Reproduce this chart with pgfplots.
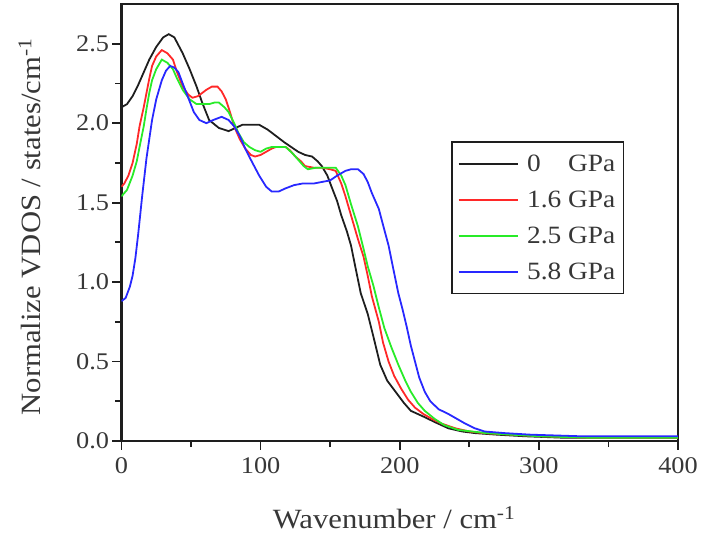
\documentclass[border=0pt]{standalone}
\usepackage{fontspec}
\setmainfont{Liberation Serif}[FakeStretch=1.1]
\usepackage{pgfplots}
\pgfplotsset{compat=1.18}
\definecolor{cblack}{RGB}{30,30,30}
\definecolor{cred}{RGB}{255,40,40}
\definecolor{cgreen}{RGB}{40,235,40}
\definecolor{cblue}{RGB}{40,40,255}
\definecolor{ctext}{RGB}{55,55,55}
\begin{document}
\begin{tikzpicture}
\begin{axis}[
  scale only axis,
  width=559pt, height=439pt,
  xmin=0, xmax=400, ymin=0, ymax=2.75,
  xtick={0,100,200,300,400},
  minor xtick={50,150,250,350},
  ytick={0,0.5,1,1.5,2,2.5},
  minor ytick={0.25,0.75,1.25,1.75,2.25},
  tick pos=left, tick align=outside,
  major tick length=9pt, minor tick length=6pt,
  axis line style={line width=2.2pt, color=cblack},
  every tick/.style={line width=1.8pt, color=cblack},
  yticklabel style={/pgf/number format/.cd, fixed, fixed zerofill, precision=1},
  xticklabel style={yshift=-4pt},
  ticklabel style={font=\fontsize{24}{28}\selectfont, text=ctext},
  /pgf/number format/assume math mode=true,
  xlabel={Wavenumber / cm\textsuperscript{-1}},
  ylabel={Normalize VDOS / states/cm\textsuperscript{-1}},
  every axis x label/.style={at={(axis description cs:0.49,-0.175)}, anchor=center,
    font=\fontsize{28}{32}\selectfont, text=ctext},
  every axis y label/.style={at={(axis description cs:-0.165,0.49)}, anchor=center, rotate=90,
    font=\fontsize{28}{32}\selectfont, text=ctext},
  legend style={at={(rel axis cs:0.592,0.686)}, anchor=north west, draw=cblack, line width=1.6pt,
    font=\fontsize{25}{29}\selectfont, text=ctext, inner xsep=6pt, inner ysep=11pt, row sep=14pt,
    column sep=6pt},
  legend cell align=left,
  legend image code/.code={\draw[#1, line width=1.8pt] (0pt,0pt) -- (60pt,0pt);},
  every axis plot/.append style={line width=1.8pt},
]
\addplot[cblack] coordinates {
(0,2.10)(4,2.12)(8,2.17)(12,2.24)(16,2.32)(20,2.40)(25,2.48)(30,2.54)(34,2.56)(38,2.54)
(44,2.44)(49,2.34)(54,2.23)(58,2.13)(63,2.02)(70,1.97)(77,1.95)(82,1.97)(87,1.99)(93,1.99)
(99,1.99)(105,1.96)(111,1.92)(117,1.88)(122,1.85)(127,1.82)(132,1.80)(137,1.79)(141,1.76)(144,1.73)
(148,1.67)(151,1.60)(155,1.51)(158,1.42)(162,1.32)(165,1.23)(168,1.10)(172,0.93)(177,0.80)(181,0.66)
(186,0.48)(191,0.38)(197,0.31)(203,0.24)(208,0.19)(213,0.17)(218,0.15)(225,0.12)(235,0.08)(245,0.06)
(254,0.05)(270,0.04)(290,0.03)(320,0.02)(350,0.02)(400,0.02)};
\addlegendentry{0\phantom{.6} GPa}
\addplot[cred] coordinates {
(0,1.60)(2,1.62)(5,1.67)(8,1.75)(11,1.87)(13,1.98)(16,2.10)(18,2.19)(20,2.28)(22,2.36)
(25,2.42)(29,2.46)(33,2.44)(37,2.40)(40,2.32)(44,2.23)(48,2.18)(51,2.16)(55,2.17)(61,2.21)
(65,2.23)(69,2.23)(72,2.20)(75,2.15)(78,2.07)(81,1.98)(85,1.90)(89,1.84)(93,1.80)(96,1.79)
(100,1.80)(104,1.82)(108,1.84)(111,1.85)(118,1.85)(121,1.83)(125,1.79)(129,1.76)(132,1.73)(138,1.72)
(144,1.72)(150,1.71)(154,1.70)(158,1.62)(161,1.54)(165,1.42)(170,1.27)(174,1.16)(177,1.04)(180,0.91)
(185,0.75)(188,0.62)(192,0.50)(196,0.41)(201,0.33)(206,0.26)(211,0.21)(217,0.17)(223,0.14)(230,0.11)
(240,0.08)(250,0.06)(260,0.05)(280,0.04)(300,0.03)(340,0.02)(400,0.02)};
\addlegendentry{1.6 GPa}
\addplot[cgreen] coordinates {
(0,1.54)(4,1.58)(8,1.67)(11,1.76)(13,1.85)(16,1.98)(18,2.09)(20,2.19)(22,2.27)(25,2.34)
(29,2.40)(33,2.38)(37,2.34)(40,2.28)(44,2.21)(49,2.15)(54,2.12)(58,2.12)(63,2.12)(67,2.13)
(70,2.13)(74,2.10)(77,2.07)(81,2.00)(84,1.94)(88,1.88)(92,1.85)(96,1.83)(100,1.82)(104,1.84)
(108,1.85)(113,1.85)(118,1.85)(123,1.81)(127,1.77)(131,1.73)(134,1.71)(140,1.72)(148,1.72)(154,1.72)
(158,1.67)(161,1.61)(165,1.49)(170,1.35)(174,1.21)(177,1.10)(181,0.98)(185,0.84)(189,0.71)(194,0.59)
(199,0.48)(204,0.38)(208,0.31)(213,0.24)(218,0.19)(225,0.14)(232,0.10)(242,0.07)(252,0.06)(262,0.05)
(280,0.04)(300,0.03)(340,0.02)(400,0.02)};
\addlegendentry{2.5 GPa}
\addplot[cblue] coordinates {
(0,0.88)(3,0.90)(6,0.97)(8,1.04)(10,1.15)(12,1.30)(15,1.55)(18,1.78)(22,2.02)(25,2.15)
(29,2.27)(32,2.33)(35,2.36)(38,2.35)(41,2.32)(44,2.25)(48,2.16)(52,2.07)(56,2.02)(61,2.00)
(66,2.02)(72,2.04)(77,2.02)(81,1.98)(85,1.92)(89,1.84)(93,1.77)(99,1.67)(104,1.60)(108,1.57)
(113,1.57)(118,1.59)(124,1.61)(130,1.62)(138,1.62)(144,1.63)(150,1.64)(155,1.67)(161,1.70)(165,1.71)
(170,1.71)(174,1.68)(177,1.63)(180,1.56)(185,1.46)(188,1.36)(192,1.23)(195,1.10)(199,0.93)(202,0.83)
(205,0.72)(208,0.60)(211,0.50)(214,0.40)(218,0.31)(222,0.25)(228,0.20)(235,0.17)(241,0.14)(247,0.11)
(254,0.08)(261,0.06)(275,0.05)(294,0.04)(330,0.03)(400,0.03)};
\addlegendentry{5.8 GPa}
\end{axis}
\path (current axis.south west) ++(-122pt,-97pt) rectangle ++(701pt,540pt);
\end{tikzpicture}
\end{document}
